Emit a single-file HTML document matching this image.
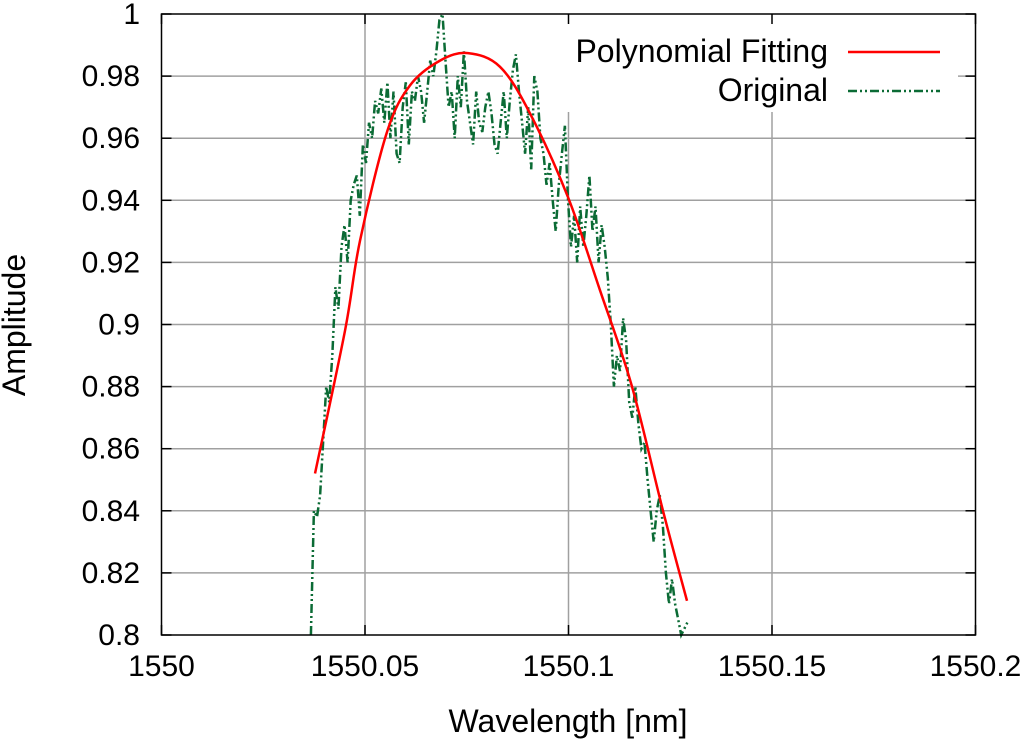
<!DOCTYPE html>
<html><head><meta charset="utf-8"><style>
html,body{margin:0;padding:0;background:#fff;}
svg text{font-family:"Liberation Sans",sans-serif;fill:#000;}
</style></head><body>
<svg id="chart" width="1024" height="751" viewBox="0 0 1024 751" xmlns="http://www.w3.org/2000/svg">
<rect width="1024" height="751" fill="#fff"/>
<g id="grid"></g>
<g id="legendbg"></g>
<g id="series"></g>
<g id="legend"></g>
<g id="axes"></g>
</svg>
<script>
const xTicks = [1550, 1550.05, 1550.1, 1550.15, 1550.2];
const xTickLabels = ["1550", "1550.05", "1550.1", "1550.15", "1550.2"];
const yTicks = [0.8, 0.82, 0.84, 0.86, 0.88, 0.9, 0.92, 0.94, 0.96, 0.98, 1];
const yTickLabels = ["0.8", "0.82", "0.84", "0.86", "0.88", "0.9", "0.92", "0.94", "0.96", "0.98", "1"];
const fitWavelength = [1550.03772,1550.04509,1550.04877,1550.05541,1550.06106,1550.06843,1550.07531,1550.08317,1550.09054,1550.09988,1550.10774,1550.11560,1550.12322,1550.12912];
const fitAmplitude = [0.852,0.898,0.927,0.962,0.977,0.985,0.9874,0.983,0.968,0.941,0.911,0.880,0.840,0.811];
const origStart = 1550.0367;
const origEnd = 1550.1292;
const origAmplitude = [0.800,0.840,0.838,0.845,0.862,0.880,0.875,0.890,0.912,0.905,0.925,0.932,0.920,0.940,0.945,0.948,0.935,0.958,0.952,0.965,0.960,0.972,0.968,0.976,0.965,0.978,0.960,0.975,0.955,0.952,0.970,0.978,0.958,0.975,0.972,0.980,0.975,0.965,0.975,0.985,0.980,0.988,0.998,1.000,0.985,0.970,0.975,0.960,0.980,0.970,0.988,0.972,0.965,0.958,0.975,0.965,0.962,0.970,0.975,0.968,0.958,0.955,0.965,0.975,0.960,0.972,0.982,0.987,0.975,0.965,0.955,0.970,0.950,0.980,0.975,0.960,0.955,0.945,0.952,0.940,0.930,0.945,0.955,0.964,0.940,0.925,0.935,0.920,0.938,0.925,0.935,0.948,0.930,0.938,0.920,0.932,0.925,0.915,0.900,0.880,0.890,0.885,0.902,0.895,0.875,0.870,0.880,0.868,0.860,0.862,0.850,0.840,0.830,0.840,0.845,0.835,0.820,0.810,0.818,0.810,0.805,0.800,0.802,0.804];

const NS = "http://www.w3.org/2000/svg";
const L = 161.5, R = 975.5, T = 14, B = 635;
const xMin = 1550, xMax = 1550.2, yMin = 0.8, yMax = 1.0;
function sx(v){ return L + (v - xMin) / (xMax - xMin) * (R - L); }
function sy(v){ return B - (v - yMin) / (yMax - yMin) * (B - T); }
function mk(tag, attrs, parent){
  const e = document.createElementNS(NS, tag);
  for (const k in attrs) e.setAttribute(k, attrs[k]);
  parent.appendChild(e);
  return e;
}
const grid = document.getElementById('grid');
const axes = document.getElementById('axes');
const series = document.getElementById('series');
const legend = document.getElementById('legend');
const legendbg = document.getElementById('legendbg');

xTicks.forEach((t, i) => {
  if (i === 0 || i === xTicks.length - 1) return;
  const ln = mk('line', {x1: sx(t), x2: sx(t), y1: T, y2: B, stroke: '#a0a0a0', 'stroke-width': 1.5}, grid);
  
  
});
yTicks.forEach((t, i) => {
  if (i === 0 || i === yTicks.length - 1) return;
  const ln = mk('line', {x1: L, x2: R, y1: sy(t), y2: sy(t), stroke: '#a0a0a0', 'stroke-width': 1.5}, grid);
  
  
});

const lb = mk('rect', {x: 503, y: 15, width: 455, height: 97, fill: '#fff'}, legendbg);



let dO = '';
const n = origAmplitude.length;
origAmplitude.forEach((v, i) => {
  const w = origStart + (origEnd - origStart) * i / (n - 1);
  dO += (i ? 'L' : 'M') + sx(w).toFixed(1) + ',' + sy(v).toFixed(1);
});
const po = mk('path', {d: dO, fill: 'none', stroke: '#0b6b35', 'stroke-width': 2.5, 'stroke-dasharray': '9,3,2,3,2,3'}, series);



const pts = fitWavelength.map((w, i) => [sx(w), sy(fitAmplitude[i])]);
let dF = 'M' + pts[0][0] + ',' + pts[0][1];
for (let i = 0; i < pts.length - 1; i++) {
  const p0 = pts[Math.max(0, i - 1)], p1 = pts[i], p2 = pts[i + 1], p3 = pts[Math.min(pts.length - 1, i + 2)];
  const c1 = [p1[0] + (p2[0] - p0[0]) / 6, p1[1] + (p2[1] - p0[1]) / 6];
  const c2 = [p2[0] - (p3[0] - p1[0]) / 6, p2[1] - (p3[1] - p1[1]) / 6];
  dF += 'C' + c1[0].toFixed(1) + ',' + c1[1].toFixed(1) + ' ' + c2[0].toFixed(1) + ',' + c2[1].toFixed(1) + ' ' + p2[0].toFixed(1) + ',' + p2[1].toFixed(1);
}
const pf = mk('path', {d: dF, fill: 'none', stroke: '#ff0000', 'stroke-width': 2.5}, series);



const t1 = mk('text', {x: 828, y: 62, 'font-size': 32, 'text-anchor': 'end'}, legend);
t1.textContent = 'Polynomial Fitting';


const l1 = mk('line', {x1: 848, x2: 940, y1: 52, y2: 52, stroke: '#ff0000', 'stroke-width': 2.5}, legend);


const t2 = mk('text', {x: 828, y: 101, 'font-size': 32, 'text-anchor': 'end'}, legend);
t2.textContent = 'Original';


const l2 = mk('line', {x1: 848, x2: 940, y1: 91, y2: 91, stroke: '#0b6b35', 'stroke-width': 2.5, 'stroke-dasharray': '9,3,2,3,2,3'}, legend);



const fr = mk('rect', {x: L, y: T, width: R - L, height: B - T, fill: 'none', stroke: '#000', 'stroke-width': 1.5}, axes);


xTicks.forEach((t, i) => {
  const tk = mk('line', {x1: sx(t), x2: sx(t), y1: B, y2: B - 10, stroke: '#000', 'stroke-width': 1.5}, axes);
  
  
  const tk2 = mk('line', {x1: sx(t), x2: sx(t), y1: T, y2: T + 10, stroke: '#000', 'stroke-width': 1.5}, axes);
  
  
  const tx = mk('text', {x: sx(t), y: 676, 'font-size': 30, 'text-anchor': 'middle'}, axes);
  tx.textContent = xTickLabels[i];
  
  
});
yTicks.forEach((t, i) => {
  const tk = mk('line', {x1: L, x2: L + 10, y1: sy(t), y2: sy(t), stroke: '#000', 'stroke-width': 1.5}, axes);
  
  
  const tk2 = mk('line', {x1: R, x2: R - 10, y1: sy(t), y2: sy(t), stroke: '#000', 'stroke-width': 1.5}, axes);
  
  
  const tx = mk('text', {x: 140, y: sy(t) + 10, 'font-size': 30, 'text-anchor': 'end'}, axes);
  tx.textContent = yTickLabels[i];
  
  
});
const xt = mk('text', {x: 568, y: 732, 'font-size': 32, 'text-anchor': 'middle'}, axes);
xt.textContent = 'Wavelength [nm]';


const yt = mk('text', {x: 0, y: 0, 'font-size': 32, 'text-anchor': 'middle', transform: 'translate(25,325) rotate(-90)'}, axes);
yt.textContent = 'Amplitude';


</script>
</body></html>
